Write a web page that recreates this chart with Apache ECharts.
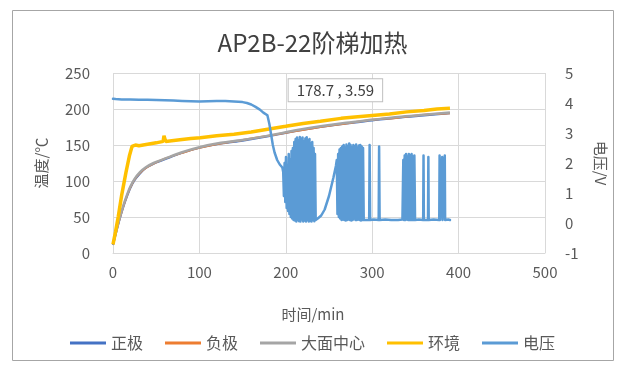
<!DOCTYPE html>
<html>
<head>
<meta charset="utf-8">
<script src="https://cdn.jsdelivr.net/npm/echarts@6/dist/echarts.min.js"></script>
<style>
  html, body { margin: 0; padding: 0; background: #ffffff; }
  #chart { width: 625px; height: 365px; }
</style>
</head>
<body>
<div id="chart"></div>
<script>
// Time axis (min) and temperature readings (°C)
var tempTime    = [0, 4, 8, 12, 16, 20, 25, 31, 38, 47, 60, 80, 100, 125, 150, 180, 210, 240, 270, 300, 330, 360, 390];
var posValues   = [11, 30, 48, 64, 78, 90, 101, 110, 118, 124, 130, 139, 146, 152, 156, 162, 169, 175, 180, 184, 188, 191, 194];
var negValues   = [12, 31, 49, 65, 79, 91, 102, 111, 118, 124, 131, 139, 146, 152, 157, 163, 169, 175, 180, 185, 188, 192, 194];
var centerValues= [12, 32, 50, 66, 80, 92, 103, 112, 119, 125, 131, 140, 147, 153, 157, 163, 170, 176, 181, 185, 189, 192, 195];

var ambientTime   = [0, 3, 6, 10, 15, 19, 22, 26, 30, 40, 50, 58, 59, 61, 75, 90, 101, 120, 140, 160, 179, 200, 220, 240, 264, 280, 300, 320, 340, 360, 375, 390];
var ambientValues = [12, 30, 50, 80, 112, 135, 148, 150, 149, 151, 153, 155, 163, 155, 157, 159, 160, 163, 165, 168, 172, 176, 180, 183, 187, 189, 191, 193, 196, 198, 200, 201];

// Cell voltage (V), [time, value] segments
var voltSteady = [
  [0, 4.14], [3, 4.13], [10, 4.12], [20, 4.12], [30, 4.11], [40, 4.11], [50, 4.1], [60, 4.09],
  [70, 4.08], [80, 4.07], [90, 4.06], [100, 4.05], [110, 4.06], [120, 4.07], [130, 4.07], [140, 4.05],
  [150, 4.03], [155, 4.0], [160, 3.95], [165, 3.87], [170, 3.78], [174, 3.68], [178.7, 3.59],
  [181, 3.3], [183, 2.95], [185, 2.6], [187, 2.35], [190, 2.1], [193, 1.95], [196, 1.85]
];
var voltBand1 = [
  [197.0, 1.7], [197.8, 0.9], [198.6, 2.0], [199.4, 0.7], [200.2, 2.2], [201.0, 0.5], [201.8, 1.9], [202.6, 0.4],
  [203.4, 2.3], [204.2, 0.3], [205.0, 2.1], [205.8, 0.2], [206.6, 2.4], [207.4, 0.15], [208.2, 2.5], [209.0, 0.1],
  [209.8, 2.7], [210.6, 0.08], [211.4, 2.8], [212.2, 0.05], [213.0, 2.85], [213.8, 0.1], [214.6, 2.75], [215.4, 0.06],
  [216.2, 2.87], [217.0, 0.05], [217.8, 2.8], [218.6, 0.12], [219.4, 2.85], [220.2, 0.05], [221.0, 2.7], [221.8, 0.08],
  [222.6, 2.82], [223.4, 0.05], [224.2, 2.86], [225.0, 0.1], [225.8, 2.75], [226.6, 0.05], [227.4, 2.8], [228.2, 0.07],
  [229.0, 2.65], [229.8, 0.05], [230.6, 2.7], [231.4, 0.1], [232.2, 2.5], [233.0, 0.06], [233.8, 2.3], [234.6, 0.1]
];
var voltDip = [
  [235.4, 0.12], [237, 0.15], [239, 0.2], [241, 0.25], [245, 0.45], [250, 0.9], [255, 1.5], [258, 1.9]
];
var voltBand2 = [
  [259.0, 2.1], [259.8, 0.3], [260.6, 2.3], [261.4, 0.2], [262.2, 2.45], [263.0, 0.15], [263.8, 2.5], [264.6, 0.1],
  [265.4, 2.55], [266.2, 0.12], [267.0, 2.6], [267.8, 0.1], [268.6, 2.5], [269.4, 0.08], [270.2, 2.62], [271.0, 0.1],
  [271.8, 2.55], [272.6, 0.12], [273.4, 2.65], [274.2, 0.1], [275.0, 2.6], [275.8, 0.08], [276.6, 2.5], [277.4, 0.1],
  [278.2, 2.6], [279.0, 0.15], [279.8, 2.55], [280.6, 0.1], [281.4, 2.62], [282.2, 0.1], [283.0, 2.5], [283.8, 0.12],
  [284.6, 2.58], [285.4, 0.1], [286.2, 2.6], [287.0, 0.08], [287.8, 2.55], [288.6, 0.1], [289.4, 2.5], [290.2, 0.1]
];
var voltQuiet = [
  [291.5, 0.12], [296.5, 0.1], [297.0, 2.6], [297.6, 0.1], [302, 0.12], [307.5, 0.1], [308.0, 2.55], [308.6, 0.1],
  [315, 0.12], [322, 0.1], [330, 0.1], [335.0, 0.12]
];
var voltBand3 = [
  [336.0, 2.1], [336.8, 0.1], [337.6, 2.25], [338.4, 0.1], [339.2, 2.3], [340.0, 0.12], [340.8, 2.2], [341.6, 0.1],
  [342.4, 2.3], [343.2, 0.1], [344.0, 2.25], [344.8, 0.1], [345.6, 2.3], [346.4, 0.1], [347.2, 2.2], [348.0, 0.1],
  [348.8, 2.25], [349.6, 0.1]
];
var voltTail = [
  [354, 0.12], [359.0, 0.1], [359.4, 2.25], [359.8, 0.1], [364.6, 0.1], [365.0, 2.2], [365.4, 0.1], [371, 0.12],
  [377.6, 0.1], [378.0, 2.25], [378.4, 0.1], [380.6, 0.1], [381.0, 2.2], [381.4, 0.1], [383.6, 0.1], [384.0, 2.25],
  [384.4, 0.1], [388, 0.12], [390, 0.1]
];

// Point called out on the voltage curve
var calloutPoint = [178.7, 3.59];

var xTicks = { min: 0, max: 500, interval: 100 };
var tempTicks = { min: 0, max: 250, interval: 50 };
var voltTicks = { min: -1, max: 5, interval: 1 };

function zipPairs(xs, ys) {
  return xs.map(function (x, i) { return [x, ys[i]]; });
}

var voltData = [].concat(voltSteady, voltBand1, voltDip, voltBand2, voltQuiet, voltBand3, voltTail);

var FONT = "'Noto Sans CJK SC', 'Noto Sans', sans-serif";
var labelColor = '#595959';
var gridColor = '#d9d9d9';

var chart = echarts.init(document.getElementById('chart'), null, { renderer: 'canvas' });

chart.setOption({
  backgroundColor: '#ffffff',
  animation: false,
  textStyle: { fontFamily: FONT },
  title: {
    text: 'AP2B-22阶梯加热',
    left: 'center',
    top: 26,
    textStyle: { fontSize: 24, fontWeight: 'normal', color: '#404040', fontFamily: FONT }
  },
  graphic: [{
    type: 'rect',
    shape: { x: 12.5, y: 10.5, width: 601, height: 350 },
    style: { fill: 'none', stroke: '#a6a6a6', lineWidth: 1 },
    silent: true,
    z: -1
  }],
  legend: {
    left: 'center',
    top: 330,
    itemWidth: 36,
    itemHeight: 3,
    itemGap: 22,
    icon: 'rect',
    textStyle: { fontSize: 16, color: labelColor, fontFamily: FONT },
    data: ['正极', '负极', '大面中心', '环境', '电压']
  },
  grid: { left: 113, right: 80, top: 73, bottom: 112 },
  xAxis: {
    type: 'value',
    min: xTicks.min, max: xTicks.max, interval: xTicks.interval,
    name: '时间/min',
    nameLocation: 'middle',
    nameGap: 54,
    nameTextStyle: { fontSize: 15, color: labelColor, padding: [0, 32, 0, 0] },
    axisLine: { show: true, lineStyle: { color: gridColor } },
    axisTick: { show: false },
    axisLabel: { fontSize: 15, color: labelColor, margin: 12 },
    splitLine: { show: true, lineStyle: { color: gridColor } }
  },
  yAxis: [{
    type: 'value',
    min: tempTicks.min, max: tempTicks.max, interval: tempTicks.interval,
    name: '温度/℃',
    nameLocation: 'middle',
    nameRotate: 90,
    nameGap: 64,
    nameTextStyle: { fontSize: 15, color: labelColor },
    axisLine: { show: false },
    axisTick: { show: false },
    axisLabel: { fontSize: 15, color: labelColor, margin: 23 },
    splitLine: { show: true, lineStyle: { color: gridColor } }
  }, {
    type: 'value',
    position: 'right',
    min: voltTicks.min, max: voltTicks.max, interval: voltTicks.interval,
    name: '电压/V',
    nameLocation: 'middle',
    nameRotate: -90,
    nameGap: 48,
    nameTextStyle: { fontSize: 15, color: labelColor },
    axisLine: { show: false },
    axisTick: { show: false },
    axisLabel: { fontSize: 15, color: labelColor, margin: 20 },
    splitLine: { show: false }
  }],
  series: [{
    name: '正极', type: 'line', yAxisIndex: 0, showSymbol: false, smooth: 0.3,
    data: zipPairs(tempTime, posValues),
    itemStyle: { color: '#4472c4' },
    lineStyle: { color: '#4472c4', width: 2 }
  }, {
    name: '负极', type: 'line', yAxisIndex: 0, showSymbol: false, smooth: 0.3,
    data: zipPairs(tempTime, negValues),
    itemStyle: { color: '#ed7d31' },
    lineStyle: { color: '#ed7d31', width: 2 }
  }, {
    name: '大面中心', type: 'line', yAxisIndex: 0, showSymbol: false, smooth: 0.3,
    data: zipPairs(tempTime, centerValues),
    itemStyle: { color: '#a5a5a5' },
    lineStyle: { color: '#a5a5a5', width: 2.5 }
  }, {
    name: '环境', type: 'line', yAxisIndex: 0, showSymbol: false,
    data: zipPairs(ambientTime, ambientValues),
    itemStyle: { color: '#ffc000' },
    lineStyle: { color: '#ffc000', width: 3.5 }
  }, {
    name: '电压', type: 'line', yAxisIndex: 1, showSymbol: false,
    data: voltData,
    itemStyle: { color: '#5b9bd5' },
    lineStyle: { color: '#5b9bd5', width: 2.5, join: 'round', cap: 'round' },
    markPoint: {
      symbol: 'circle',
      symbolSize: 0,
      data: [{ coord: calloutPoint, value: calloutPoint }],
      label: {
        show: true,
        position: 'inside',
        offset: [68, -25],
        formatter: function (d) { return d.value[0] + ' , ' + d.value[1]; },
        color: '#404040',
        fontSize: 15,
        backgroundColor: '#ffffff',
        borderColor: '#bfbfbf',
        borderWidth: 1,
        padding: [4, 8, 3, 8]
      }
    }
  }]
});
</script>
</body>
</html>
